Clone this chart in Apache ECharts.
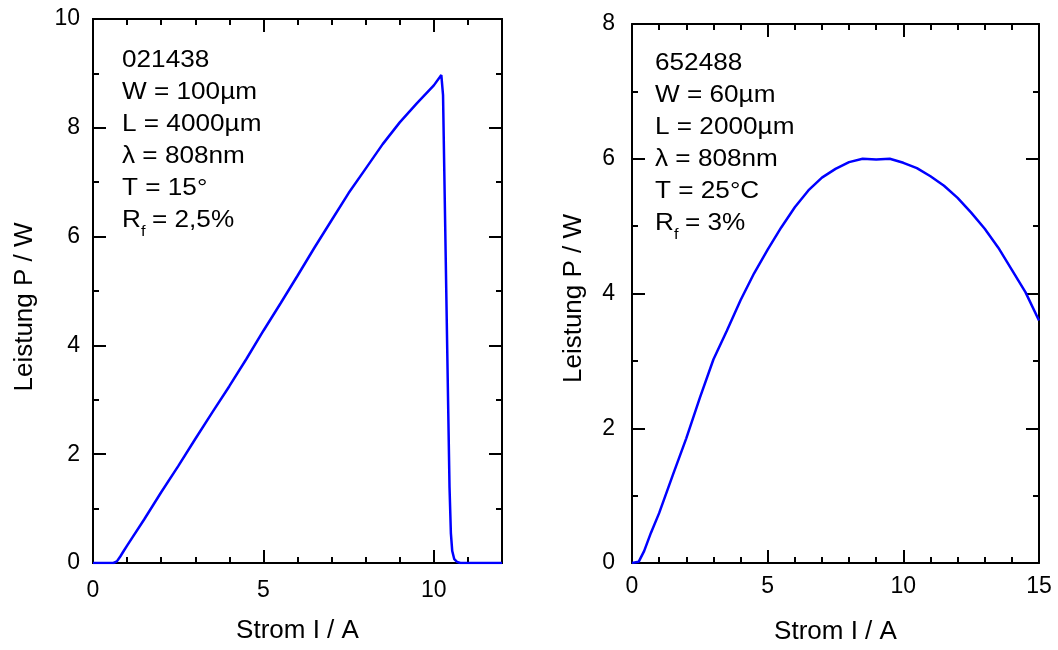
<!DOCTYPE html>
<html>
<head>
<meta charset="utf-8">
<script src="https://cdn.jsdelivr.net/npm/echarts@6/dist/echarts.min.js"></script>
<style>
  html, body { margin: 0; padding: 0; background: #fff; }
  #chart { width: 1058px; height: 650px; }
</style>
</head>
<body>
<div id="chart"></div>
<script>
// Kennlinien: Leistung ueber Strom, zwei Laserdioden

// linkes Bauteil 021438
var stromLinks = [0, 0.6, 0.7, 0.8, 0.9, 1.0, 1.5, 2.0, 2.5, 3.0, 3.5, 4.0, 4.5, 5.0, 5.5, 6.0,
    6.5, 7.0, 7.5, 8.0, 8.5, 9.0, 9.5, 10.0, 10.22, 10.27, 10.32, 10.37, 10.42, 10.46, 10.5,
    10.54, 10.6, 10.68, 10.78, 12];
var leistungLinks = [0, 0, 0.03, 0.12, 0.22, 0.32, 0.8, 1.3, 1.78, 2.28, 2.77, 3.25, 3.75, 4.27, 4.77, 5.28,
    5.8, 6.3, 6.8, 7.25, 7.7, 8.1, 8.45, 8.78, 8.97, 8.6, 6.7, 4.8, 2.9, 1.4, 0.55,
    0.22, 0.07, 0.02, 0, 0];

// rechtes Bauteil 652488
var stromRechts = [0, 0.25, 0.45, 0.7, 1.0, 1.5, 2.0, 2.5, 3.0, 3.5, 4.0, 4.5, 5.0, 5.5, 6.0, 6.5,
    7.0, 7.5, 8.0, 8.5, 9.0, 9.5, 10.0, 10.5, 11.0, 11.5, 12.0, 12.5, 13.0, 13.5, 14.0, 14.5, 15.0];
var leistungRechts = [0, 0.02, 0.18, 0.45, 0.74, 1.3, 1.85, 2.45, 3.02, 3.45, 3.9, 4.3, 4.65, 4.98, 5.28, 5.53,
    5.72, 5.85, 5.95, 6.0, 5.99, 6.0, 5.94, 5.86, 5.74, 5.6, 5.42, 5.2, 4.96, 4.68, 4.35, 4.02, 3.6];

var textLinks = ['021438', 'W = 100µm', 'L = 4000µm', 'λ = 808nm', 'T = 15°', '= 2,5%'];
var textRechts = ['652488', 'W = 60µm', 'L = 2000µm', 'λ = 808nm', 'T = 25°C', '= 3%'];

var xName = 'Strom I / A';
var yName = 'Leistung P / W';

var font = 'Liberation Sans, Arial, sans-serif';
var black = '#000';

function paare(xs, ys) {
    var out = [];
    for (var i = 0; i < xs.length; i++) {
        out.push([xs[i], ys[i]]);
    }
    return out;
}

// Achse mit Ticks nach innen
function achse(grid, pos, min, max, interval, tickLen, opts) {
    var a = {
        gridIndex: grid,
        type: 'value',
        position: pos,
        min: min,
        max: max,
        interval: interval,
        axisLine: { show: true, onZero: false, lineStyle: { color: black, width: 2 } },
        axisTick: { show: true, inside: true, length: tickLen, lineStyle: { color: black, width: 2 } },
        axisLabel: { show: false },
        splitLine: { show: false }
    };
    for (var k in opts) a[k] = opts[k];
    return a;
}

function labels(margin, extra) {
    var l = { show: true, color: black, fontFamily: font, fontSize: 23, margin: margin };
    for (var k in extra) l[k] = extra[k];
    return l;
}

function nameStyle(pad) {
    return { color: black, fontFamily: font, fontSize: 26, padding: pad || 0 };
}

function minor(n) {
    return { show: true, splitNumber: n, length: 6, lineStyle: { color: black, width: 2 } };
}

// Beschriftungen im Diagramm
function beschriftung(x, y0, zeilen) {
    var els = [];
    var dy = 32;
    for (var i = 0; i < 5; i++) {
        els.push({
            type: 'text', x: x, y: y0 + i * dy, scaleX: 1.09, scaleY: 1,
            style: { text: zeilen[i], fill: black, font: '24px ' + font, verticalAlign: 'middle' }
        });
    }
    var yr = y0 + 5 * dy;
    els.push({
        type: 'text', x: x, y: yr, scaleX: 1.09,
        style: { text: 'R', fill: black, font: '24px ' + font, verticalAlign: 'middle' }
    });
    els.push({
        type: 'text', x: x + 19, y: yr + 12, scaleX: 1.09,
        style: { text: 'f', fill: black, font: '15px ' + font, verticalAlign: 'middle' }
    });
    els.push({
        type: 'text', x: x + 30, y: yr, scaleX: 1.09,
        style: { text: zeilen[5], fill: black, font: '24px ' + font, verticalAlign: 'middle' }
    });
    return els;
}

var myChart = echarts.init(document.getElementById('chart'));

var option = {
    animation: false,
    backgroundColor: '#fff',
    grid: [
        { left: 93, top: 19, width: 409, height: 544 },
        { left: 632, top: 24, width: 407, height: 544 }
    ],
    xAxis: [
        achse(0, 'bottom', 0, 12, 5, 13, {
            axisLabel: labels(16, { showMaxLabel: false }),
            name: xName, nameLocation: 'middle', nameGap: 55, nameTextStyle: nameStyle()
        }),
        achse(0, 'bottom', 0, 12, 1, 6, {}),
        achse(0, 'top', 0, 12, 5, 13, {}),
        achse(0, 'top', 0, 12, 1, 6, {}),
        achse(1, 'bottom', 0, 15, 5, 13, {
            axisLabel: labels(12),
            minorTick: minor(5),
            name: xName, nameLocation: 'middle', nameGap: 56, nameTextStyle: nameStyle()
        }),
        achse(1, 'top', 0, 15, 5, 13, { minorTick: minor(5) })
    ],
    yAxis: [
        achse(0, 'left', 0, 10, 2, 13, {
            axisLabel: labels(13),
            minorTick: minor(2),
            name: yName, nameLocation: 'middle', nameGap: 55, nameTextStyle: nameStyle([0, 32, 0, 0])
        }),
        achse(0, 'right', 0, 10, 2, 13, { minorTick: minor(2) }),
        achse(1, 'left', 0, 8, 2, 13, {
            axisLabel: labels(17),
            minorTick: minor(2),
            name: yName, nameLocation: 'middle', nameGap: 45, nameTextStyle: nameStyle([0, 10, 0, 0])
        }),
        achse(1, 'right', 0, 8, 2, 13, { minorTick: minor(2) })
    ],
    graphic: beschriftung(122, 60, textLinks).concat(beschriftung(655, 63, textRechts)),
    series: [{
        type: 'line',
        xAxisIndex: 0,
        yAxisIndex: 0,
        data: paare(stromLinks, leistungLinks),
        symbol: 'none',
        smooth: false,
        lineStyle: { color: '#0000ff', width: 2.5 }
    }, {
        type: 'line',
        xAxisIndex: 4,
        yAxisIndex: 2,
        data: paare(stromRechts, leistungRechts),
        symbol: 'none',
        smooth: false,
        lineStyle: { color: '#0000ff', width: 2.5 }
    }]
};

myChart.setOption(option);
</script>
</body>
</html>
